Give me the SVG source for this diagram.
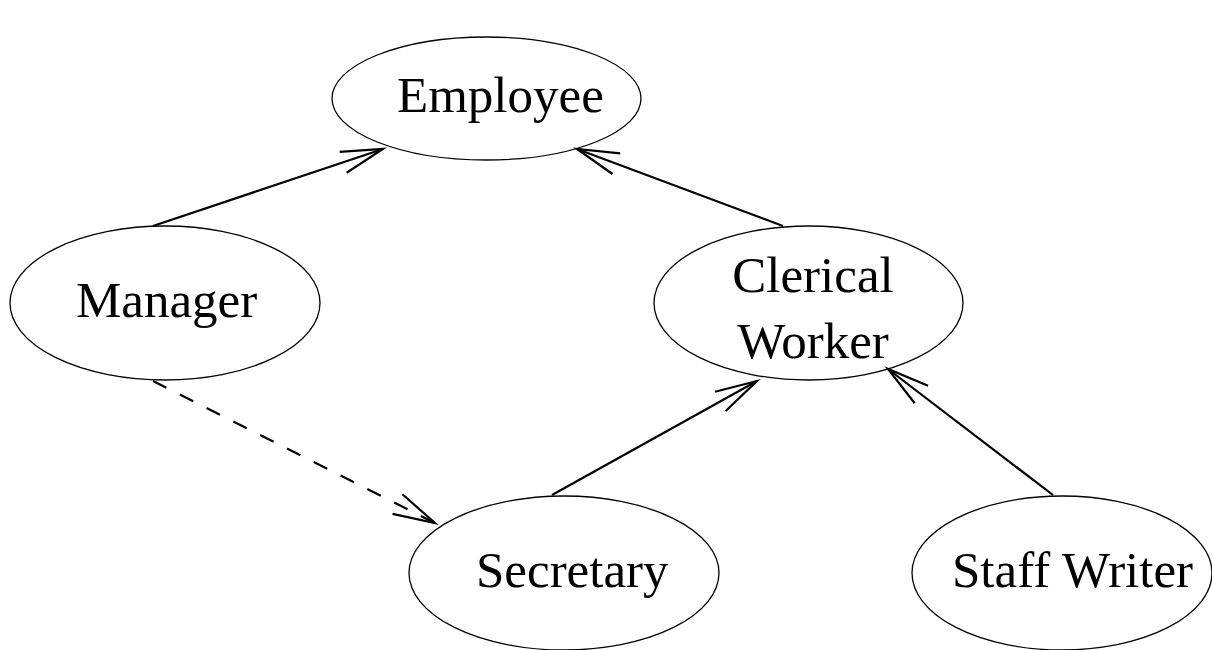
<svg xmlns="http://www.w3.org/2000/svg" width="1212" height="650" viewBox="0 0 1212 650">
<style>
.node ellipse{fill:none;stroke:#000;stroke-width:1.3}
.node text{font-family:"Liberation Serif","Times New Roman",serif;font-size:51px;fill:#000}
.edge{stroke:#000;stroke-width:2.2;fill:none;marker-end:url(#open)}
.dash{stroke-dasharray:15 15}
</style>
<defs>
<marker id="open" markerUnits="userSpaceOnUse" markerWidth="60" markerHeight="40" refX="0" refY="0" viewBox="-50 -20 60 40" orient="auto" overflow="visible">
<path d="M-42,-11 L0,0 L-42,11" fill="none" stroke="#000" stroke-width="2.2"/>
</marker>
</defs>
<rect width="1212" height="650" fill="#fff"/>
<g id="connectors">
<line class="edge" x1="153" y1="226" x2="383" y2="149"/>
<line class="edge" x1="783" y1="226" x2="577" y2="149"/>
<line class="edge" x1="552" y1="495" x2="757" y2="381"/>
<line class="edge" x1="1053" y1="495" x2="888" y2="369"/>
<line class="edge dash" x1="153" y1="381" x2="435" y2="523"/>
</g>
<g id="employee" class="node"><ellipse cx="486.5" cy="98.5" rx="154.5" ry="61.5"/><text x="397" y="112">Employee</text></g>
<g id="manager" class="node"><ellipse cx="165" cy="303" rx="155" ry="77"/><text x="76" y="317">Manager</text></g>
<g id="clerical" class="node"><ellipse cx="808.5" cy="303" rx="154.5" ry="77"/><text x="813" y="292" text-anchor="middle">Clerical</text><text x="813" y="358" text-anchor="middle">Worker</text></g>
<g id="secretary" class="node"><ellipse cx="564" cy="573" rx="155" ry="77"/><text x="476" y="587">Secretary</text></g>
<g id="staffwriter" class="node"><ellipse cx="1062" cy="573" rx="150" ry="77"/><text x="952" y="587">Staff Writer</text></g>
</svg>
